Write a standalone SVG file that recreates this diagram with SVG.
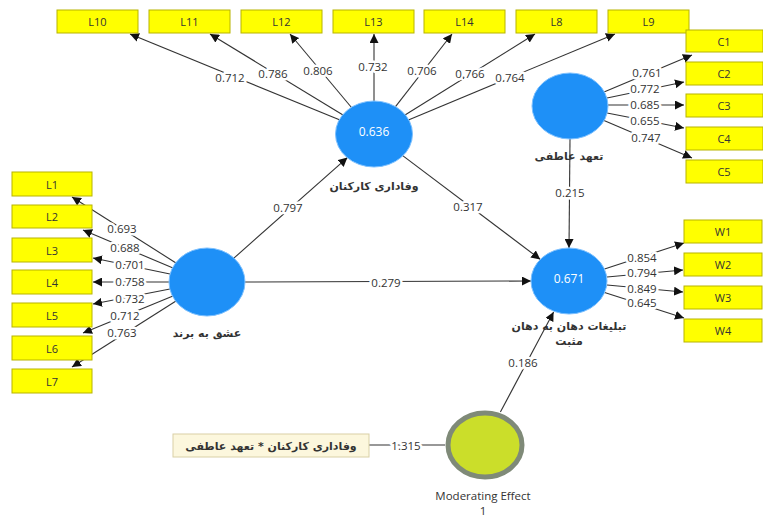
<svg xmlns="http://www.w3.org/2000/svg" width="763" height="518" viewBox="0 0 763 518">
<defs>
<marker id="ah" viewBox="0 0 10 10" refX="10" refY="5" markerWidth="9" markerHeight="9" markerUnits="userSpaceOnUse" orient="auto">
<path d="M0,0 L10,5 L0,10 z" fill="#111"/>
</marker>
</defs>
<style>
.box{fill:#ffff00;stroke:#b8b400;stroke-width:1}
.bt{font-family:"Open Sans","DejaVu Sans",sans-serif;font-size:11px;fill:#333;text-anchor:middle;dominant-baseline:central}
.lv{fill:#1e90f7;stroke:#7cc0ff;stroke-width:1}
.cn line{stroke:#333;stroke-width:1.1}
.ar{marker-end:url(#ah)}
.lb{font-family:"Open Sans","DejaVu Sans",sans-serif;font-size:11.5px;fill:#333;text-anchor:middle;dominant-baseline:central;stroke:#fff;stroke-width:5;paint-order:stroke;stroke-linejoin:round}
.fa{font-family:"DejaVu Sans","Noto Sans",sans-serif;font-size:11px;font-weight:bold;fill:#333;text-anchor:middle;dominant-baseline:central}
.rv{font-family:"Open Sans","DejaVu Sans",sans-serif;font-size:12px;fill:#fff;text-anchor:middle;dominant-baseline:central}
</style>
<rect width="763" height="518" fill="#fff"/>

<g class="cn" id="connectors">
<line class="ar" x1="340" y1="120" x2="130" y2="34"/>
<line class="ar" x1="343" y1="115" x2="210" y2="34"/>
<line class="ar" x1="351.5" y1="107.5" x2="290" y2="34"/>
<line class="ar" x1="374" y1="101" x2="374" y2="34"/>
<line class="ar" x1="395.5" y1="106.7" x2="452" y2="34"/>
<line class="ar" x1="405" y1="115" x2="535" y2="34"/>
<line class="ar" x1="408.4" y1="119.9" x2="615" y2="34"/>
<line class="ar" x1="604" y1="92" x2="692" y2="55"/>
<line class="ar" x1="607" y1="98" x2="684" y2="82"/>
<line class="ar" x1="608" y1="105" x2="684" y2="105"/>
<line class="ar" x1="607" y1="113" x2="684" y2="128"/>
<line class="ar" x1="604" y1="120.5" x2="692" y2="158"/>
<line class="ar" x1="604.5" y1="269" x2="684" y2="243"/>
<line class="ar" x1="607" y1="277" x2="683" y2="270"/>
<line class="ar" x1="607" y1="285" x2="683" y2="292"/>
<line class="ar" x1="604.6" y1="292.5" x2="684" y2="318"/>
<line class="ar" x1="176" y1="263" x2="72" y2="197"/>
<line class="ar" x1="173" y1="268" x2="83" y2="230"/>
<line class="ar" x1="170" y1="274" x2="93" y2="258"/>
<line class="ar" x1="169" y1="282" x2="93" y2="282"/>
<line class="ar" x1="170" y1="289" x2="93" y2="304"/>
<line class="ar" x1="173" y1="296" x2="83" y2="333"/>
<line class="ar" x1="176" y1="301" x2="72" y2="367"/>
<line class="ar" x1="233.6" y1="258.4" x2="347.4" y2="157.6"/>
<line class="ar" x1="245" y1="282" x2="531" y2="281"/>
<line class="ar" x1="402.7" y1="155.6" x2="540.3" y2="259.4"/>
<line class="ar" x1="570" y1="139" x2="569" y2="248"/>
<line class="ar" x1="500.4" y1="412" x2="553.6" y2="312"/>
<line x1="369" y1="445" x2="445" y2="445"/>
<text class="lb" x="230" y="77">0.712</text>
<text class="lb" x="273" y="73">0.786</text>
<text class="lb" x="318" y="70">0.806</text>
<text class="lb" x="373" y="66">0.732</text>
<text class="lb" x="422" y="70">0.706</text>
<text class="lb" x="470" y="73">0.766</text>
<text class="lb" x="510" y="77">0.764</text>
<text class="lb" x="647" y="72">0.761</text>
<text class="lb" x="645" y="88">0.772</text>
<text class="lb" x="645" y="104">0.685</text>
<text class="lb" x="645" y="120">0.655</text>
<text class="lb" x="646" y="137">0.747</text>
<text class="lb" x="642" y="257">0.854</text>
<text class="lb" x="642" y="272">0.794</text>
<text class="lb" x="642" y="288">0.849</text>
<text class="lb" x="642" y="302">0.645</text>
<text class="lb" x="122" y="228">0.693</text>
<text class="lb" x="125" y="247">0.688</text>
<text class="lb" x="130" y="264">0.701</text>
<text class="lb" x="130" y="281">0.758</text>
<text class="lb" x="130" y="298">0.732</text>
<text class="lb" x="125" y="315">0.712</text>
<text class="lb" x="122" y="332">0.763</text>
<text class="lb" x="288" y="207">0.797</text>
<text class="lb" x="386" y="282">0.279</text>
<text class="lb" x="468" y="206">0.317</text>
<text class="lb" x="570" y="192">0.215</text>
<text class="lb" x="523" y="362">0.186</text>
<text class="lb" x="406" y="445">1.315</text>
</g>

<g id="L10"><rect class="box" x="57" y="10" width="81" height="23"/><text class="bt" x="97.5" y="21.5">L10</text></g>
<g id="L11"><rect class="box" x="149" y="10" width="81" height="23"/><text class="bt" x="189.5" y="21.5">L11</text></g>
<g id="L12"><rect class="box" x="241" y="10" width="81" height="23"/><text class="bt" x="281.5" y="21.5">L12</text></g>
<g id="L13"><rect class="box" x="333" y="10" width="81" height="23"/><text class="bt" x="373.5" y="21.5">L13</text></g>
<g id="L14"><rect class="box" x="424" y="10" width="81" height="23"/><text class="bt" x="464.5" y="21.5">L14</text></g>
<g id="L8"><rect class="box" x="516" y="10" width="81" height="23"/><text class="bt" x="556.5" y="21.5">L8</text></g>
<g id="L9"><rect class="box" x="608" y="10" width="81" height="23"/><text class="bt" x="648.5" y="21.5">L9</text></g>

<g id="C1"><rect class="box" x="686" y="30" width="77" height="22"/><text class="bt" x="724" y="41">C1</text></g>
<g id="C2"><rect class="box" x="686" y="62" width="77" height="23"/><text class="bt" x="724" y="73.5">C2</text></g>
<g id="C3"><rect class="box" x="686" y="94" width="77" height="23"/><text class="bt" x="724" y="105.5">C3</text></g>
<g id="C4"><rect class="box" x="686" y="127" width="77" height="23"/><text class="bt" x="724" y="138.5">C4</text></g>
<g id="C5"><rect class="box" x="686" y="160" width="77" height="23"/><text class="bt" x="724" y="171.5">C5</text></g>

<g id="W1"><rect class="box" x="684" y="220" width="78" height="23"/><text class="bt" x="723" y="231.5">W1</text></g>
<g id="W2"><rect class="box" x="684" y="253" width="78" height="23"/><text class="bt" x="723" y="264.5">W2</text></g>
<g id="W3"><rect class="box" x="684" y="286" width="78" height="23"/><text class="bt" x="723" y="297.5">W3</text></g>
<g id="W4"><rect class="box" x="684" y="319" width="78" height="23"/><text class="bt" x="723" y="330.5">W4</text></g>

<g id="L1"><rect class="box" x="12" y="172" width="80" height="24"/><text class="bt" x="52" y="184">L1</text></g>
<g id="L2"><rect class="box" x="12" y="205" width="80" height="23"/><text class="bt" x="52" y="216.5">L2</text></g>
<g id="L3"><rect class="box" x="12" y="238" width="80" height="24"/><text class="bt" x="52" y="250">L3</text></g>
<g id="L4"><rect class="box" x="12" y="270" width="80" height="24"/><text class="bt" x="52" y="282">L4</text></g>
<g id="L5"><rect class="box" x="12" y="303" width="80" height="24"/><text class="bt" x="52" y="315">L5</text></g>
<g id="L6"><rect class="box" x="12" y="336" width="80" height="24"/><text class="bt" x="52" y="348">L6</text></g>
<g id="L7"><rect class="box" x="12" y="369" width="80" height="24"/><text class="bt" x="52" y="381">L7</text></g>

<g id="vafadari"><ellipse class="lv" cx="374" cy="134" rx="38.5" ry="33"/><text class="rv" x="374" y="131">0.636</text><text class="fa" x="374" y="186">وفاداری کارکنان</text></g>
<g id="taahod"><ellipse class="lv" cx="570" cy="106" rx="38" ry="33"/><text class="fa" x="569" y="156">تعهد عاطفی</text></g>
<g id="eshgh"><ellipse class="lv" cx="207" cy="282" rx="38" ry="34"/><text class="fa" x="207" y="333">عشق به برند</text></g>
<g id="tablighat"><ellipse class="lv" cx="569" cy="281" rx="38" ry="33"/><text class="rv" x="569" y="278">0.671</text><text class="fa" x="569" y="326">تبلیغات دهان به دهان</text><text class="fa" x="569" y="341">مثبت</text></g>
<g id="moderating"><ellipse cx="485" cy="445" rx="37" ry="32" fill="#cbde2a" stroke="#7f8a78" stroke-width="5"/><text class="bt" style="font-size:11.5px" x="483" y="495">Moderating Effect</text><text class="bt" style="font-size:11.5px" x="483" y="510">1</text></g>
<g id="interaction"><rect x="173" y="434" width="196" height="23" fill="#fcf7dd" stroke="#d9d0a6"/><text class="fa" x="271" y="446">وفاداری کارکنان * تعهد عاطفی</text></g>
</svg>
